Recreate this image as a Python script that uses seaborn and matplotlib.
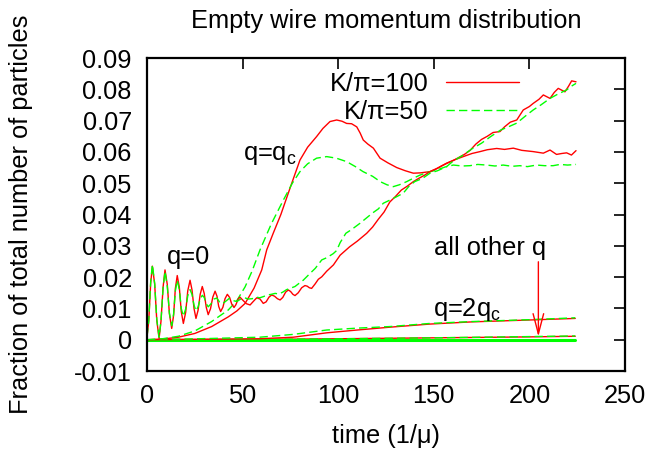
import numpy as np
import pandas as pd
import seaborn as sns
import matplotlib
matplotlib.use("Agg")
import matplotlib.pyplot as plt
from matplotlib.lines import Line2D

# ---- data ----
# q=0, K/pi=100 (red)
t_q0_red = [0, 0.9, 1.9, 2.8, 4.0, 5.1, 6.3, 7.3, 8.4, 9.4, 10.6, 11.7, 12.9, 13.9, 14.8,
            15.8, 16.9, 17.9, 19.0, 20.2, 21.3, 22.5, 23.5, 24.6, 25.6, 26.7, 27.8, 28.9,
            29.9, 31.0, 32.0, 33.2, 34.4, 35.6, 36.6, 37.5, 38.5, 39.7, 40.8, 42.0, 43.2,
            44.3, 45.5, 46.5, 47.6, 48.6, 50.0, 52.0, 53.9, 55.7, 57.4, 59.1, 60.8, 62.3,
            63.8, 65.2, 66.7, 68.2, 69.6, 71.0, 72.5, 73.9, 75.1, 76.3, 77.4, 79.1, 80.9,
            82.6, 83.8, 84.9, 86.1, 87.9, 89.6, 91.4, 94.0, 97.5, 101.0, 106.0, 110.0,
            114.9, 118.0, 121.0, 124.0, 127.0, 130.0, 133.0, 136.0, 139.3, 142.0, 145.0,
            148.0, 151.0, 154.0, 157.0, 160.0, 163.0, 166.0, 169.0, 172.0, 175.0, 178.0,
            181.0, 184.6, 187.0, 190.0, 193.4, 196.8, 200.0, 202.0, 205.0, 207.3, 210.8,
            213.0, 215.1, 218.6, 220.5, 222.1, 224.4]
v_q0_red = [0.001, 0.006, 0.018, 0.0235, 0.0177, 0.0062, 0.0004, 0.0059, 0.0168, 0.0223,
            0.0176, 0.0083, 0.0036, 0.0078, 0.0163, 0.0205, 0.0167, 0.0090, 0.0052, 0.0087,
            0.0156, 0.0190, 0.0160, 0.0099, 0.0068, 0.0094, 0.0145, 0.0170, 0.0148, 0.0103,
            0.0080, 0.0099, 0.0136, 0.0155, 0.0139, 0.0106, 0.0090, 0.0104, 0.0131, 0.0145,
            0.0135, 0.0114, 0.0103, 0.0112, 0.0129, 0.0136, 0.0127, 0.0115, 0.0111, 0.0123,
            0.0134, 0.0130, 0.0116, 0.0121, 0.0136, 0.0143, 0.0139, 0.0131, 0.0127, 0.0135,
            0.0152, 0.0159, 0.0154, 0.0145, 0.0141, 0.0150, 0.0166, 0.0173, 0.0171, 0.0166,
            0.0164, 0.0178, 0.0193, 0.0201, 0.0219, 0.0239, 0.0270, 0.0297, 0.0315, 0.0340,
            0.0360, 0.0385, 0.0408, 0.0440, 0.0458, 0.0478, 0.0490, 0.0505, 0.0515, 0.0525,
            0.0537, 0.0545, 0.0555, 0.0564, 0.0572, 0.0582, 0.0592, 0.0605, 0.0625, 0.0640,
            0.0650, 0.0662, 0.0665, 0.0680, 0.0695, 0.0702, 0.0734, 0.0745, 0.0755, 0.0768,
            0.0782, 0.0771, 0.0790, 0.0803, 0.0792, 0.0810, 0.0827, 0.0824]

# q=0, K/pi=50 (green)
t_q0_green = [0, 0.9, 1.9, 2.8, 4.0, 5.1, 6.3, 7.3, 8.4, 9.4, 10.6, 11.7, 12.9, 13.9, 14.8,
              15.8, 16.9, 17.9, 19.0, 20.2, 21.3, 22.5, 23.5, 24.6, 25.6, 26.7, 27.8, 28.9,
              29.9, 31.0, 32.0, 33.5, 35.0, 36.5, 38.0, 39.5, 41.0, 43.0, 45.0, 47.0, 49.0,
              51.0, 53.0, 55.0, 57.0, 59.0, 61.0, 63.0, 65.0, 67.0, 69.0, 71.0, 73.0, 74.8,
              77.4, 79.5, 81.7, 85.3, 88.0, 91.4, 94.0, 97.4, 99.2, 101.0, 104.0, 107.0,
              111.4, 115.0, 118.0, 121.0, 123.6, 127.0, 130.6, 134.0, 137.0, 140.0, 144.0,
              148.0, 152.0, 156.7, 160.0, 165.4, 170.0, 175.0, 180.0, 185.0, 189.0, 193.4,
              198.0, 202.0, 206.0, 210.8, 215.0, 219.5, 222.0, 224.4]
v_q0_green = [0.001, 0.006, 0.0185, 0.0240, 0.0180, 0.0065, 0.0008, 0.0060, 0.0165, 0.0218,
              0.0170, 0.0085, 0.0045, 0.0082, 0.0155, 0.0190, 0.0160, 0.0100, 0.0075, 0.0098,
              0.0140, 0.0160, 0.0145, 0.0110, 0.0092, 0.0105, 0.0130, 0.0142, 0.0135, 0.0115,
              0.0105, 0.0115, 0.0130, 0.0133, 0.0120, 0.0115, 0.0122, 0.0132, 0.0125, 0.0122,
              0.0130, 0.0134, 0.0130, 0.0131, 0.0136, 0.0134, 0.0138, 0.0143, 0.0145, 0.0148,
              0.0146, 0.0152, 0.0160, 0.0164, 0.0170, 0.0180, 0.0190, 0.0212, 0.0228, 0.0255,
              0.0262, 0.0275, 0.0285, 0.0310, 0.0340, 0.0352, 0.0372, 0.0390, 0.0405, 0.0418,
              0.0436, 0.0446, 0.0457, 0.0468, 0.0490, 0.0505, 0.0515, 0.0532, 0.0540, 0.0553,
              0.0570, 0.0590, 0.0610, 0.0628, 0.0650, 0.0670, 0.0680, 0.0692, 0.0715, 0.0734,
              0.0750, 0.0771, 0.0785, 0.0798, 0.0810, 0.0819]

# q=qc
t_qc_red = [0, 8, 16.4, 25, 33.8, 42.5, 47, 51.3, 56, 60, 62.6, 66, 70, 75.7, 80, 84, 88.7,
            92, 95.7, 99.2, 102, 104.4, 107, 109.7, 111.5, 113.1, 115.5, 118.4, 121.9, 126,
            130.6, 135, 139.3, 143, 148, 152, 156.7, 161, 165.4, 170, 174.2, 178, 182.9, 187,
            191.6, 196, 202, 207.3, 210.8, 214.2, 217, 219.5, 222, 224.4]
v_qc_red = [0, 0.0002, 0.0008, 0.0020, 0.0042, 0.0073, 0.0092, 0.0116, 0.0165, 0.0223,
            0.0287, 0.0340, 0.0400, 0.0500, 0.0574, 0.0615, 0.0649, 0.0675, 0.0697, 0.0702,
            0.0698, 0.0691, 0.0690, 0.0680, 0.0660, 0.0638, 0.0625, 0.0612, 0.0580, 0.0565,
            0.0550, 0.0540, 0.0532, 0.0533, 0.0537, 0.0548, 0.0564, 0.0575, 0.0585, 0.0595,
            0.0601, 0.0607, 0.0611, 0.0608, 0.0612, 0.0605, 0.0601, 0.0596, 0.0606, 0.0592,
            0.0595, 0.0597, 0.0590, 0.0604]
t_qc_green = [0, 8, 16.4, 25, 33.8, 42.5, 47, 51.3, 55, 59.1, 65, 71.3, 76, 80, 84, 88.7, 94,
              99, 104.4, 109, 113, 118, 122, 125.5, 128.8, 132, 135.8, 139, 142.8, 147, 151.5,
              156, 160.2, 165, 168.9, 173, 177.6, 182, 186.3, 191, 195, 199, 203.7, 208,
              212.4, 216, 220, 224.4]
v_qc_green = [0, 0.0003, 0.0011, 0.0028, 0.0058, 0.0095, 0.0125, 0.0169, 0.0220, 0.0287,
              0.0370, 0.0446, 0.0500, 0.0537, 0.0562, 0.0580, 0.0585, 0.0580, 0.0569, 0.0553,
              0.0537, 0.0522, 0.0505, 0.0495, 0.0489, 0.0495, 0.0505, 0.0515, 0.0526, 0.0535,
              0.0542, 0.0552, 0.0558, 0.0555, 0.0556, 0.0560, 0.0558, 0.0555, 0.0558, 0.0554,
              0.0556, 0.0553, 0.0558, 0.0556, 0.0556, 0.0560, 0.0558, 0.0560]

# q=2qc
t_q2c = [0, 20, 40, 59, 76.5, 94, 110, 127, 148, 170, 200, 224]
v_q2c_red = [0, 0.0001, 0.0002, 0.0003, 0.0008, 0.0022, 0.0031, 0.0040, 0.0050, 0.0057, 0.0063, 0.0068]
v_q2c_green = [0, 0.0002, 0.0005, 0.0008, 0.0017, 0.0031, 0.0037, 0.0042, 0.0052, 0.0058, 0.0064, 0.0070]

# all other q
t_other = [0, 60, 100, 150, 200, 224]
v_other_red = [0, 0.0001, 0.0003, 0.0006, 0.0009, 0.0011]
v_other_green = [0, 0.0001, 0.0003, 0.0006, 0.0010, 0.0012]
t_flat = [0, 224]
v_flat = [0, 0]

x_ticks = [0, 50, 100, 150, 200, 250]
y_ticks = [-0.01, 0, 0.01, 0.02, 0.03, 0.04, 0.05, 0.06, 0.07, 0.08, 0.09]
y_tick_labels = ['-0.01', '0', '0.01', '0.02', '0.03', '0.04', '0.05', '0.06', '0.07', '0.08', '0.09']
legend_labels = ['K/\u03c0=100', 'K/\u03c0=50']

RED = '#ff0000'
GREEN = '#00ff00'
DASH = (0, (6, 3))

sns.set_style('white')
plt.rcParams['font.family'] = ['Liberation Sans', 'DejaVu Sans']
plt.rcParams['mathtext.fontset'] = 'custom'
plt.rcParams['mathtext.rm'] = 'Liberation Sans'
plt.rcParams['mathtext.it'] = 'Liberation Sans:italic'
plt.rcParams['text.color'] = 'black'
plt.rcParams['axes.labelcolor'] = 'black'
plt.rcParams['xtick.color'] = 'black'
plt.rcParams['ytick.color'] = 'black'
FS = 18.3

fig = plt.figure(figsize=(6.65, 4.49), dpi=100)
ax = fig.add_axes([0.2211, 0.1737, 0.7187, 0.6971])


def draw(t, v, color, dashed, lw=1.0):
    sns.lineplot(x=t, y=v, ax=ax, color=color, lw=lw, estimator=None, sort=False,
                 linestyle=DASH if dashed else '-')


# flat "other q" lines (drawn thick green on top of red)
draw(t_flat, v_flat, RED, False)
draw(t_other, v_other_red, RED, False)
draw(t_other, v_other_green, GREEN, True)
draw(t_flat, v_flat, GREEN, False, lw=2.2)
draw(t_q2c, v_q2c_red, RED, False)
draw(t_q2c, v_q2c_green, GREEN, True)
draw(t_qc_red, v_qc_red, RED, False)
draw(t_qc_green, v_qc_green, GREEN, True)
draw(t_q0_red, v_q0_red, RED, False)
draw(t_q0_green, v_q0_green, GREEN, True)

ax.set_xlim(0, 250)
ax.set_ylim(-0.01, 0.09)
ax.set_xticks(x_ticks)
ax.set_xticklabels([str(x) for x in x_ticks])
ax.set_yticks(y_ticks)
ax.set_yticklabels(y_tick_labels)
ax.tick_params(direction='in', length=8, width=1.2, top=True, right=True,
               labelsize=FS, colors='black', pad=9.5)
ax.tick_params(axis='y', pad=11)
for sp in ax.spines.values():
    sp.set_visible(True)
    sp.set_linewidth(1.6)
    sp.set_color('black')

ax.set_title('Empty wire momentum distribution', fontsize=FS, pad=21.6, color='black')
ax.set_xlabel('time (1/\u03bc)', fontsize=FS)
ax.set_ylabel('Fraction of total number of particles', fontsize=FS)
ax.xaxis.set_label_coords(0.5, -0.17)
ax.yaxis.set_label_coords(-0.2385, 0.5)

ax.text(10.3, 0.0265, 'q=0', fontsize=FS, va='center', ha='left')
ax.text(50.4, 0.059, 'q=q$_{\\mathregular{c}}$', fontsize=FS, va='center', ha='left')
ax.text(149.8, 0.0095, 'q=2q$_{\\mathregular{c}}$', fontsize=FS, va='center', ha='left')
ax.text(179.4, 0.0293, 'all other q', fontsize=FS, va='center', ha='center')
ax.annotate('', xy=(204.7, 0.001), xytext=(204.7, 0.0249),
            arrowprops=dict(arrowstyle='->, head_length=1.45, head_width=0.38',
                            color=RED, lw=1.0, shrinkA=0, shrinkB=0, mutation_scale=10))

handles = [Line2D([], [], color=RED, lw=1.0),
           Line2D([], [], color=GREEN, lw=1.0, linestyle=DASH)]
ax.legend(handles, legend_labels, loc='upper right', bbox_to_anchor=(0.778, 0.955),
          frameon=False, fontsize=FS, markerfirst=False, handlelength=2.87,
          handletextpad=0.67, labelspacing=0.15, borderpad=0, borderaxespad=0)

fig.savefig('out.png', dpi=100)
